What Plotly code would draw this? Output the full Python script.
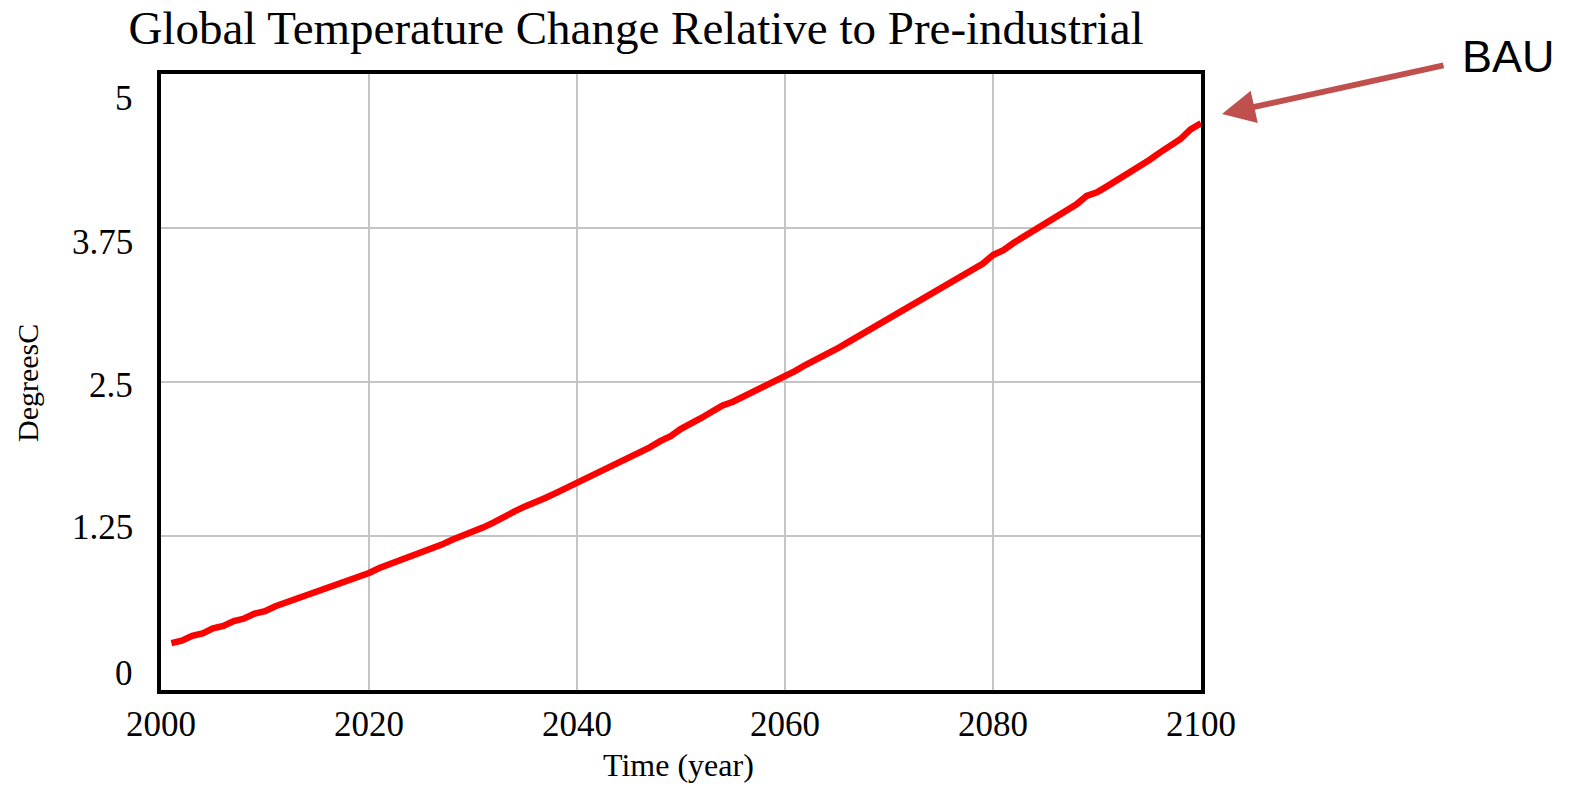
import plotly.graph_objects as go

years = list(range(2001, 2101))
temps = [
    0.38, 0.40, 0.44, 0.46, 0.50, 0.52, 0.56, 0.58, 0.62, 0.64,
    0.68, 0.71, 0.73, 0.77, 0.79, 0.83, 0.85, 0.89, 0.92, 0.95,
    0.99, 1.02, 1.05, 1.09, 1.12, 1.14, 1.18, 1.22, 1.25, 1.28,
    1.32, 1.36, 1.41, 1.45, 1.49, 1.52, 1.56, 1.60, 1.64, 1.68,
    1.72, 1.76, 1.80, 1.84, 1.88, 1.92, 1.97, 2.02, 2.06, 2.12,
    2.16, 2.21, 2.26, 2.31, 2.34, 2.38, 2.42, 2.47, 2.51, 2.55,
    2.59, 2.64, 2.68, 2.72, 2.77, 2.82, 2.87, 2.91, 2.96, 3.01,
    3.06, 3.11, 3.16, 3.21, 3.26, 3.31, 3.36, 3.42, 3.46, 3.53,
    3.57, 3.63, 3.68, 3.74, 3.78, 3.84, 3.89, 3.94, 4.01, 4.04,
    4.09, 4.14, 4.20, 4.25, 4.30, 4.36, 4.41, 4.47, 4.55, 4.60,
]
x_ticks = [2000, 2020, 2040, 2060, 2080, 2100]
y_ticks = [0, 1.25, 2.5, 3.75, 5]
y_tick_labels = ["0", "1.25", "2.5", "3.75", "5"]

title_text = "Global Temperature Change Relative to Pre-industrial"
x_title = "Time (year)"
y_title = "DegreesC"
series_label = "BAU"

SERIF = "Liberation Serif, Times New Roman, serif"
SANS = "Liberation Sans, Arial, sans-serif"

W, H = 1576, 787
L, R, T, B = 161, 1201, 74, 690  # plot area pixel edges
pw, ph = R - L, B - T

def px(xp):
    return (xp - L) / pw

def py(yp):
    return (B - yp) / ph

fig = go.Figure()
fig.add_trace(go.Scatter(
    x=years, y=temps, mode="lines",
    line=dict(color="#FF0000", width=6.5),
    showlegend=False, hoverinfo="skip",
))

# y tick label positions as drawn in the reference (pixel rows)
y_label_rows = [673, 527, 385, 242, 98]
annotations = []
for lab, row in zip(y_tick_labels, y_label_rows):
    annotations.append(dict(
        text=lab, xref="paper", yref="paper", x=px(135), y=py(row),
        xanchor="right", yanchor="middle", showarrow=False,
        font=dict(family=SERIF, size=35, color="black"),
    ))

annotations.append(dict(
    text=y_title, xref="paper", yref="paper", x=px(27), y=py(383),
    xanchor="center", yanchor="middle", textangle=-90, showarrow=False,
    font=dict(family=SERIF, size=30, color="black"),
))
annotations.append(dict(
    text=x_title, xref="paper", yref="paper", x=px(678), y=py(765),
    xanchor="center", yanchor="middle", showarrow=False,
    font=dict(family=SERIF, size=32, color="black"),
))
# arrow pointing at the end of the line
annotations.append(dict(
    text="", xref="paper", yref="paper", x=px(1222), y=py(114),
    ax=223, ay=-49, axref="pixel", ayref="pixel",
    showarrow=True, arrowhead=2, arrowsize=1.1, arrowwidth=6,
    arrowcolor="#C0504D", standoff=0,
))
annotations.append(dict(
    text=series_label, xref="paper", yref="paper", x=px(1508), y=py(57),
    xanchor="center", yanchor="middle", showarrow=False,
    font=dict(family=SANS, size=45, color="black"),
))

fig.update_layout(
    width=W, height=H,
    margin=dict(l=L, r=W - R, t=T, b=H - B, pad=0),
    paper_bgcolor="white", plot_bgcolor="white",
    title=dict(
        text=title_text, xref="paper", x=px(636), xanchor="center",
        yref="container", y=1 - 28 / H, yanchor="middle",
        font=dict(family=SERIF, size=47, color="black"),
    ),
    annotations=annotations,
)
fig.update_xaxes(
    range=[2000, 2100], tickvals=x_ticks, ticks="",
    tickfont=dict(family=SERIF, size=35, color="black"),
    showgrid=True, gridcolor="#C4C4C4", gridwidth=2,
    showline=True, linecolor="black", linewidth=4, mirror=True,
    zeroline=False,
)
fig.update_yaxes(
    range=[0, 5], tickvals=y_ticks, showticklabels=False, ticks="",
    showgrid=True, gridcolor="#C4C4C4", gridwidth=2,
    showline=True, linecolor="black", linewidth=4, mirror=True,
    zeroline=False,
)

fig.write_html(
    "out.html",
    config={"displayModeBar": False, "staticPlot": True},
    post_script="document.body.style.margin='0px';document.body.style.overflow='hidden';",
)
